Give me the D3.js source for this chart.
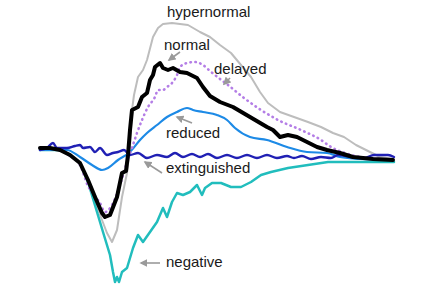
<!DOCTYPE html>
<html>
<head>
<meta charset="utf-8">
<script src="https://cdn.jsdelivr.net/npm/d3@7"></script>
<style>
  body { margin: 0; background: #fff; }
</style>
</head>
<body>
<div id="main"></div>
<script>
var width = 423
var height = 295

// time (arbitrary units) vs response amplitude
var hypernormal = [[0,1],[20,1],[30,-4],[40,-12],[48,-31],[57,-56],[67,-82],[72,-91],[77,-79],[82,-46],[87,-22],[90,4],[92,41],[94,56],[98,74],[103,81],[107,91],[113,114],[118,123],[123,127],[132,128],[140,127],[148,126],[160,119],[170,114],[180,106],[191,98],[201,86],[211,74],[220,59],[228,48],[240,39],[254,34],[268,29],[281,24],[293,18],[304,14],[316,6],[328,0],[340,-6],[353,-8]]

var normal = [[0,3],[10,3],[20,1],[30,-4],[40,-12],[48,-29],[55,-46],[62,-62],[65,-66],[70,-64],[77,-46],[82,-22],[86,-20],[88,-4],[90,21],[92,41],[98,44],[102,54],[107,58],[110,71],[113,76],[115,84],[120,88],[123,83],[128,81],[133,83],[140,79],[147,78],[157,73],[163,64],[170,55],[180,49],[193,44],[210,34],[227,24],[233,21],[240,14],[248,16],[257,14],[267,9],[277,4],[287,1],[300,-2],[313,-6],[333,-8],[353,-9]]

var delayed = [[0,3],[20,1],[30,-5],[40,-14],[48,-35],[55,-45],[60,-52],[65,-61],[72,-54],[80,-34],[87,-11],[92,3],[97,18],[102,31],[108,44],[115,54],[118,61],[123,61],[127,64],[132,68],[137,76],[140,84],[147,88],[155,89],[163,86],[170,80],[180,72],[188,66],[204,53],[221,41],[238,31],[261,21],[281,11],[291,4],[305,-2],[320,-6],[340,-8],[353,-9]]

var reduced = [[0,1],[27,1],[40,-6],[52,-14],[62,-19],[68,-17],[78,-9],[90,-1],[100,11],[107,18],[117,26],[127,34],[137,39],[147,43],[153,41],[163,39],[177,36],[187,31],[195,23],[210,14],[227,11],[247,4],[267,-1],[287,-2],[300,-6],[320,-8],[353,-9]]

var extinguished = [[0,1],[7,3],[13,8],[17,3],[27,3],[35,5],[40,6],[43,3],[50,4],[55,-1],[60,3],[67,-4],[73,-2],[78,-1],[84,1],[90,-4],[98,-2],[107,-7],[117,-4],[127,-6],[135,-2],[143,-6],[152,-3],[160,-6],[168,-3],[177,-7],[187,-4],[197,-7],[207,-4],[217,-7],[227,-4],[237,-7],[247,-5],[254,-7],[262,-5],[271,-8],[281,-6],[291,-7],[298,-4],[311,-6],[324,-7],[334,-4],[348,-4],[354,-6]]

var negative = [[0,1],[20,1],[30,-4],[40,-12],[48,-31],[57,-61],[63,-81],[70,-104],[73,-121],[75,-131],[77,-126],[79,-131],[82,-121],[87,-117],[93,-97],[98,-84],[103,-91],[110,-81],[117,-71],[123,-57],[127,-66],[132,-51],[137,-42],[143,-44],[150,-41],[157,-34],[162,-44],[165,-37],[172,-32],[181,-32],[191,-36],[201,-36],[211,-31],[221,-24],[231,-21],[248,-17],[268,-14],[288,-11],[311,-11],[331,-11],[354,-11]]

var labels = ['hypernormal', 'normal', 'delayed', 'reduced', 'extinguished', 'negative']
var labelPos = [[127,134],[124,101],[174,77],[126,13],[126,-22],[126,-116]]
// arrow tail -> tip, same units as the data (hypernormal has none)
var arrows = [null, [[140,99],[129,91]], [[190,73],[184,67]], [[152,28],[137,34]], [[122,-22],[105,-11]], [[120,-112],[101,-112]]]

var x = d3.scaleLinear().domain([0, 354]).range([40, 394])
var y = d3.scaleLinear().domain([-140, 150]).range([291, 1])

var svg = d3.select('#main')
  .append('svg')
  .attr('width', width)
  .attr('height', height)

svg.append('defs').append('marker')
    .attr('id', 'head')
    .attr('viewBox', '0 0 10 10')
    .attr('refX', 8)
    .attr('refY', 5)
    .attr('markerUnits', 'userSpaceOnUse')
    .attr('markerWidth', 8)
    .attr('markerHeight', 8)
    .attr('orient', 'auto')
  .append('path')
    .attr('d', 'M0,0 L10,5 L0,10 z')
    .attr('fill', '#9a9a9a')

var sharp = d3.line()
  .x(d => x(d[0]))
  .y(d => y(d[1]))

var smooth = d3.line()
  .x(d => x(d[0]))
  .y(d => y(d[1]))
  .curve(d3.curveMonotoneX)

var series = [
  { data: hypernormal, color: '#bdbdbd', width: 2, line: sharp },
  { data: negative, color: '#21bdbd', width: 2.5, line: sharp },
  { data: reduced, color: '#1d8ae6', width: 2.2, line: smooth },
  { data: delayed, color: '#b47ee6', width: 2.6, dash: '0.5,4.5', line: smooth },
  { data: extinguished, color: '#2020b4', width: 2.4, line: smooth },
  { data: normal, color: '#000', width: 4, line: sharp }
]

svg.selectAll('path.trace')
  .data(series)
  .enter()
  .append('path')
    .attr('class', 'trace')
    .attr('d', d => d.line(d.data))
    .attr('fill', 'none')
    .attr('stroke', d => d.color)
    .attr('stroke-width', d => d.width)
    .attr('stroke-linejoin', 'round')
    .attr('stroke-linecap', 'round')
    .attr('stroke-dasharray', d => d.dash || null)

svg.selectAll('line.arrow')
  .data(arrows.filter(a => a))
  .enter()
  .append('line')
    .attr('class', 'arrow')
    .attr('x1', d => x(d[0][0]))
    .attr('y1', d => y(d[0][1]))
    .attr('x2', d => x(d[1][0]))
    .attr('y2', d => y(d[1][1]))
    .attr('stroke', '#9a9a9a')
    .attr('stroke-width', 1.6)
    .attr('marker-end', 'url(#head)')

svg.selectAll('text.label')
  .data(labels)
  .enter()
  .append('text')
    .attr('class', 'label')
    .attr('x', (_, i) => x(labelPos[i][0]))
    .attr('y', (_, i) => y(labelPos[i][1]))
    .text(d => d)
    .attr('font-family', '"Liberation Sans", Arial, sans-serif')
    .attr('font-size', 15)
    .attr('fill', '#1a1a1a')
</script>
</body>
</html>
